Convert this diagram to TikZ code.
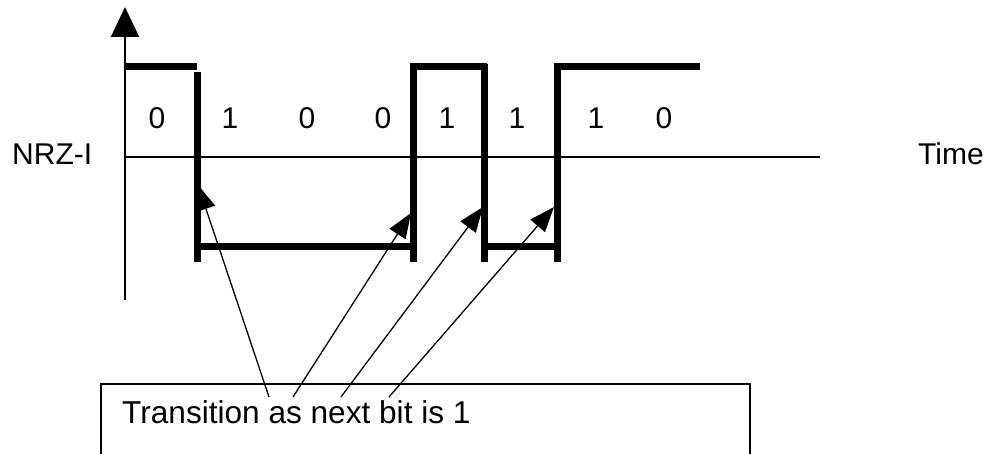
\documentclass[tikz,border=0pt]{standalone}
\usepackage{fontspec}
\setmainfont{Liberation Sans}
\usetikzlibrary{arrows.meta}
\begin{document}
\begin{tikzpicture}[x=1pt,y=-1pt,
  axisline/.style={line width=2pt},
  signal/.style={line width=7pt},
  pointer/.style={line width=1.3pt,-{Triangle[length=25pt,width=19pt]}},
  lbl/.style={inner sep=0pt,font=\fontsize{30}{36}\selectfont}]
\useasboundingbox (0,0) rectangle (990,454);

% axes
\coordinate (yb) at (125,300);
\coordinate (yt) at (125,7);
\draw[axisline,-{Triangle[length=30pt,width=28pt]}] (yb) -- (yt);
\coordinate (xl) at (125,157);
\coordinate (xr) at (820,157);
\draw[axisline] (xl) -- (xr);

\node[lbl,anchor=west] (nrzi) at (12,154) {NRZ-I};
\node[lbl,anchor=west] (time) at (918,154) {Time};

% NRZ-I waveform
\draw[signal] (125,67) -- (197,67);
\draw[signal] (197,72) -- (197,262);
\draw[signal] (197,247) -- (413,247);
\draw[signal] (413,64) -- (413,262);
\draw[signal] (410,67) -- (487,67);
\draw[signal] (484,64) -- (484,262);
\draw[signal] (484,247) -- (557,247);
\draw[signal] (557,64) -- (557,262);
\draw[signal] (554,67) -- (700,67);

% bit values
\foreach \xx/\b [count=\i] in {157/0,230/1,307/0,383/0,447/1,517/1,596/1,664/0}
  \node[lbl] (bit\i) at (\xx,118) {\b};

% caption box
\draw[line width=2pt] (101,470) -- (101,384) -- (750,384) -- (750,470);
\node[lbl,anchor=west,font=\fontsize{31.6}{38}\selectfont] (note) at (122,412) {Transition as next bit is 1};

% pointers from the caption to each transition
\coordinate (t1) at (198,185);
\coordinate (t2) at (411,213);
\coordinate (t3) at (483,207);
\coordinate (t4) at (554,207);
\coordinate (s1) at (269,397);
\coordinate (s2) at (293,397);
\coordinate (s3) at (341,397);
\coordinate (s4) at (389,397);
\draw[pointer] (s1) -- (t1);
\draw[pointer] (s2) -- (t2);
\draw[pointer] (s3) -- (t3);
\draw[pointer] (s4) -- (t4);
\end{tikzpicture}
\end{document}
